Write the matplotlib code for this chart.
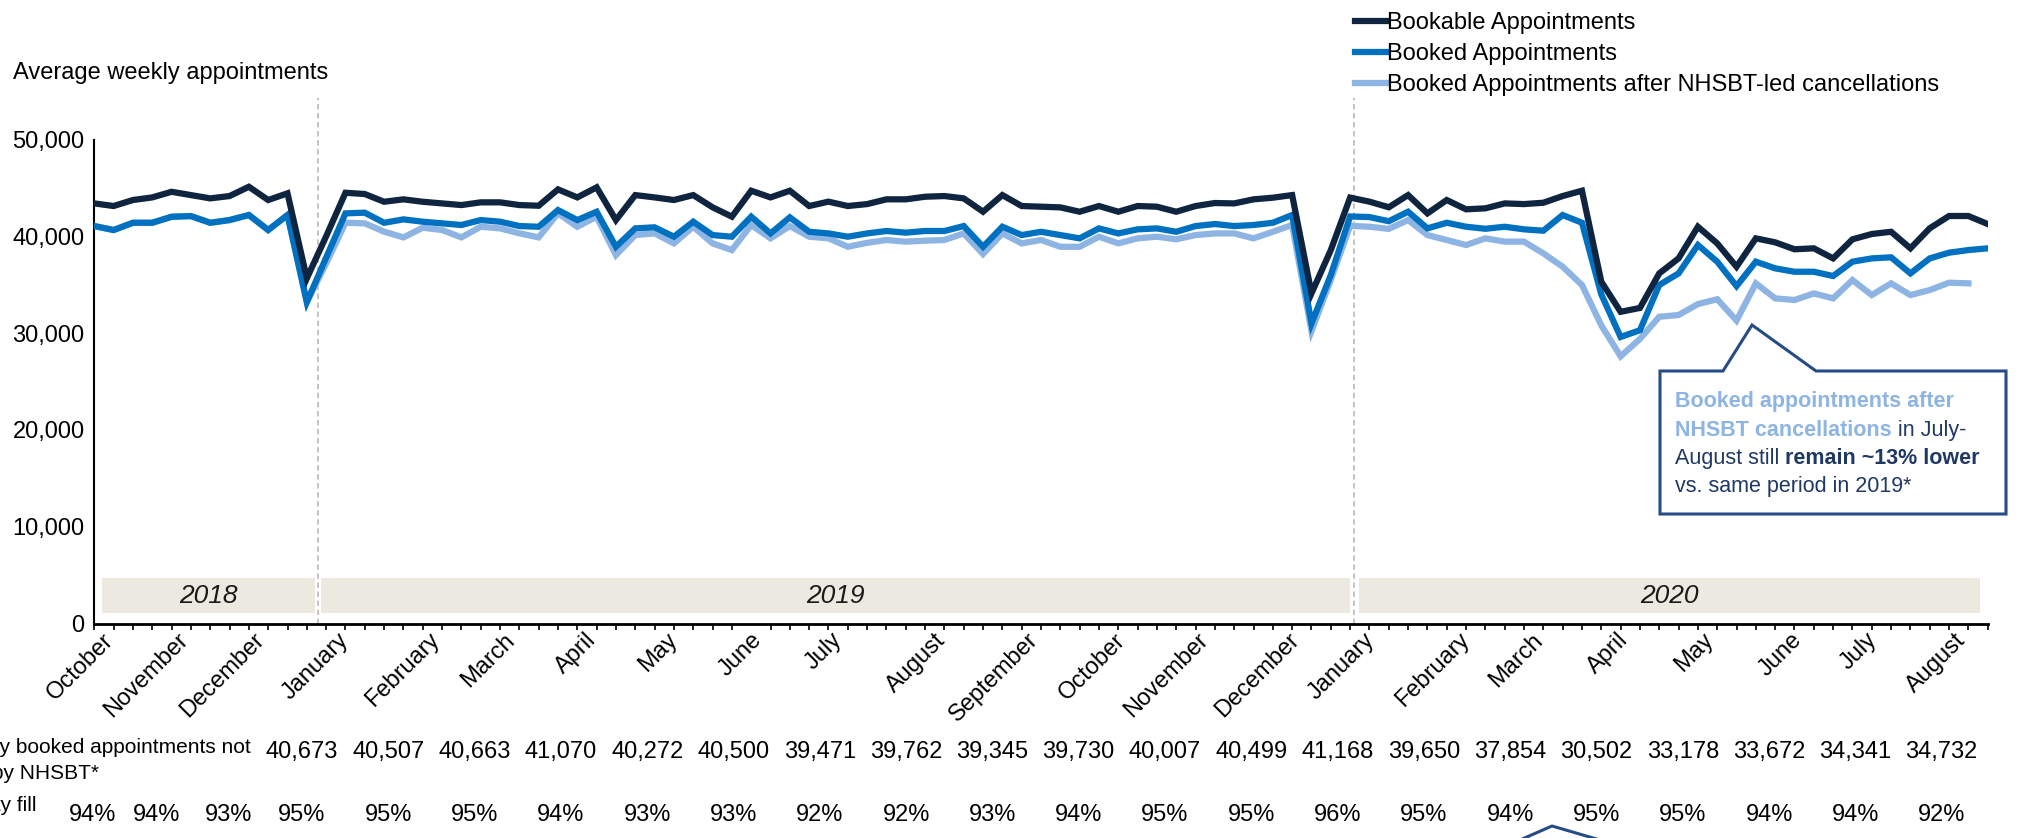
import matplotlib.pyplot as plt
from matplotlib.patches import Polygon, Rectangle
from matplotlib.lines import Line2D
from matplotlib.text import Annotation
from matplotlib.ticker import StrMethodFormatter
import numpy as np

plt.rcParams['font.family'] = ['Liberation Sans', 'DejaVu Sans']

# weekly averages, Oct 2018 - Aug 2020
bookable = [43400, 43130, 43750, 44020, 44600, 44260, 43920, 44160, 45120, 43750,
            44440, 35660, 40000, 44500, 44370, 43570, 43820, 43570, 43400, 43230,
            43510, 43510, 43230, 43160, 44850, 44020, 45060, 41680, 44260, 44020,
            43750, 44260, 43000, 42030, 44710, 44020, 44710, 43130, 43580, 43130,
            43330, 43820, 43820, 44090, 44160, 43920, 42540, 44260, 43130, 43060,
            42990, 42540, 43130, 42540, 43130, 43060, 42540, 43130, 43440, 43400,
            43820, 43990, 44260, 34110, 38580, 44000, 43580, 43000, 44260, 42370,
            43750, 42790, 42890, 43400, 43330, 43470, 44160, 44710, 35310, 32200,
            32600, 36170, 37720, 40990, 39270, 36860, 39790, 39380, 38660, 38760,
            37720, 39690, 40240, 40470, 38760, 40830, 42100, 42100, 41270]
booked = [41060, 40650, 41400, 41400, 42020, 42090, 41400, 41680, 42200, 40650,
          42200, 33200, 37800, 42370, 42440, 41400, 41750, 41510, 41340, 41170,
          41680, 41510, 41060, 40990, 42710, 41680, 42540, 38920, 40820, 40930,
          39960, 41510, 40130, 39960, 42030, 40300, 41960, 40470, 40300, 39960,
          40300, 40550, 40380, 40550, 40550, 41060, 38920, 40990, 40130, 40470,
          40130, 39790, 40820, 40300, 40720, 40820, 40470, 41060, 41270, 41060,
          41170, 41400, 42200, 31000, 36000, 42050, 41990, 41560, 42540, 40820,
          41400, 40990, 40780, 40990, 40720, 40580, 42200, 41400, 34000, 29600,
          30300, 34970, 36170, 39100, 37380, 34860, 37380, 36690, 36340, 36340,
          35900, 37380, 37720, 37830, 36170, 37720, 38310, 38580, 38760]
after_cancel = [41060, 40650, 41400, 41400, 42020, 42090, 41400, 41680, 42200, 40650,
                42200, 33200, 37200, 41400, 41340, 40480, 39890, 40890, 40650, 39890,
                40990, 40820, 40310, 39890, 42370, 40990, 42020, 38060, 40130, 40310,
                39270, 40990, 39270, 38580, 41170, 39790, 41060, 39960, 39790, 38920,
                39330, 39620, 39450, 39550, 39620, 40300, 38170, 40300, 39270, 39620,
                38920, 38920, 39960, 39270, 39790, 39960, 39690, 40130, 40300, 40300,
                39790, 40470, 41170, 30200, 35500, 41080, 40990, 40770, 41680, 40130,
                39620, 39100, 39790, 39450, 39450, 38240, 36860, 34970, 30800, 27600,
                29400, 31690, 31870, 33000, 33500, 31300, 35140, 33590, 33420, 34100,
                33590, 35480, 33930, 35140, 33930, 34450, 35210, 35140]

months = ['October', 'November', 'December', 'January', 'February', 'March', 'April',
          'May', 'June', 'July', 'August', 'September', 'October', 'November',
          'December', 'January', 'February', 'March', 'April', 'May', 'June', 'July',
          'August']
month_pos = [0.4, 4.3, 8.2, 12.6, 17.3, 21.2, 25.4, 29.6, 34.0, 38.1, 43.5, 48.3,
             52.8, 57.1, 61.8, 65.7, 70.6, 74.4, 78.8, 83.2, 87.8, 91.7, 96.3]

years = ['2018', '2019', '2020']
year_spans = [(0.4, 11.4), (11.75, 65.0), (65.45, 97.6)]
year_breaks = [11.57, 65.2]

# monthly table under the chart
not_cancelled = [40673, 40507, 40663, 41070, 40272, 40500, 39471, 39762, 39345, 39730,
                 40007, 40499, 41168, 39650, 37854, 30502, 33178, 33672, 34341, 34732]
fill_rate = [94, 94, 93, 95, 95, 95, 94, 93, 93, 92, 92, 93, 94, 95, 95, 96, 95, 94,
             95, 95, 94, 94, 92]

navy = '#0F243E'
blue = '#0070C0'
light = '#8DB4E2'
callout = '#254C84'
text_dark = '#1F3864'

W, H = 2027, 838
fig = plt.figure(figsize=(W / 100, H / 100), dpi=100)
ax = fig.add_axes([94.3 / W, 1 - 623.5 / H, (1987.7 - 94.3) / W, (623.5 - 97.9) / H])


def fx(px):
    return px / W


def fy(py):
    return 1 - py / H


# year bands and separators
for yr, (x0, x1) in zip(years, year_spans):
    ax.add_patch(Rectangle((x0, 1100), x1 - x0, 3600, facecolor='#ECEAE0',
                           edgecolor='none', zorder=0))
    ax.text((x0 + x1) / 2, 2800, yr, ha='center', va='center', fontsize=19,
            style='italic', color='#1a1a1a', zorder=1)
for xb in year_breaks:
    ax.axvline(xb, color='#BFBFBF', lw=1.3, linestyle=(0, (3, 2)), zorder=1)

lw = 4.5
x = np.arange(len(bookable))
ax.plot(np.arange(len(after_cancel)), after_cancel, color=light, lw=lw,
        solid_joinstyle='miter', label='Booked Appointments after NHSBT-led cancellations', zorder=3)
ax.plot(x, booked, color=blue, lw=lw, solid_joinstyle='miter',
        label='Booked Appointments', zorder=4)
ax.plot(x, bookable, color=navy, lw=lw, solid_joinstyle='miter',
        label='Bookable Appointments', zorder=5)

ax.set_xlim(0, len(bookable) - 1)
ax.set_ylim(0, 54300)
ax.set_yticks([0, 10000, 20000, 30000, 40000, 50000])
ax.yaxis.set_major_formatter(StrMethodFormatter('{x:,.0f}'))
ax.tick_params(axis='y', length=0, pad=7, labelsize=17)

ax.set_xticks(month_pos)
ax.set_xticklabels(months, rotation=45, ha='right', va='top', rotation_mode='anchor',
                   fontsize=17)
ax.set_xticks(x, minor=True)
ax.tick_params(axis='x', which='major', length=0, pad=4)
ax.tick_params(axis='x', which='minor', length=4.3, width=1.2, direction='out')

for s in ['top', 'right']:
    ax.spines[s].set_visible(False)
ax.spines['left'].set_bounds(0, 50000)
ax.spines['left'].set_linewidth(1.5)
ax.spines['bottom'].set_linewidth(2)

handles, labels = ax.get_legend_handles_labels()
fig.legend(handles[::-1], labels[::-1], loc='upper left',
           bbox_to_anchor=(fx(1355), fy(12)), frameon=False, fontsize=17,
           borderpad=0, borderaxespad=0, handlelength=1.3, handletextpad=0.05,
           labelspacing=0.38)

fig.text(fx(13), fy(73), 'Average weekly appointments', fontsize=17, ha='left', va='center')

# table rows (row titles run off the left edge)
fig.text(fx(251), fy(747), 'Average weekly booked appointments not', fontsize=15,
         ha='right', va='center')
fig.text(fx(99), fy(773), 'cancelled by NHSBT*', fontsize=15, ha='right', va='center')
fig.text(fx(36), fy(805), 'Capacity fill', fontsize=15, ha='right', va='center')

col_x = 302 + 86.3 * np.arange(len(not_cancelled))
for cx, v in zip(col_x, not_cancelled):
    fig.text(fx(cx), fy(752), f'{v:,}', fontsize=17, ha='center', va='center')
pct_x = np.concatenate([[93, 157, 228.6], col_x])
for cx, v in zip(pct_x, fill_rate):
    fig.text(fx(cx), fy(815), f'{v}%', fontsize=17, ha='center', va='center')

# callout box
box = [(1660, 371), (1723, 371), (1752, 325), (1816, 371), (2006, 371),
       (2006, 514), (1660, 514)]
fig.add_artist(Polygon([(fx(a), fy(b)) for a, b in box], closed=True,
                       transform=fig.transFigure, facecolor='white',
                       edgecolor=callout, lw=2.2, zorder=10))
fig.add_artist(Line2D([fx(1520), fx(1552), fx(1600)], [fy(840), fy(826), fy(840)],
                      transform=fig.transFigure, color=callout, lw=2.2, zorder=10))

lines = [
    [('Booked appointments after', light, 'bold')],
    [('NHSBT cancellations', light, 'bold'), (' in July-', text_dark, 'normal')],
    [('August still ', text_dark, 'normal'), ('remain ~13% lower', text_dark, 'bold')],
    [('vs. same period in 2019*', text_dark, 'normal')],
]
for i, segs in enumerate(lines):
    prev = None
    for s, c, w in segs:
        if prev is None:
            prev = fig.text(fx(1675), fy(401.7 + 28.3 * i), s, color=c, fontweight=w,
                            fontsize=15.5, ha='left', va='center', zorder=11)
        else:
            prev = fig.add_artist(Annotation(s, xy=(1, 0), xycoords=prev, color=c,
                                             fontweight=w, fontsize=15.5, ha='left',
                                             va='bottom', zorder=11))

fig.savefig('out.png', dpi=100)
